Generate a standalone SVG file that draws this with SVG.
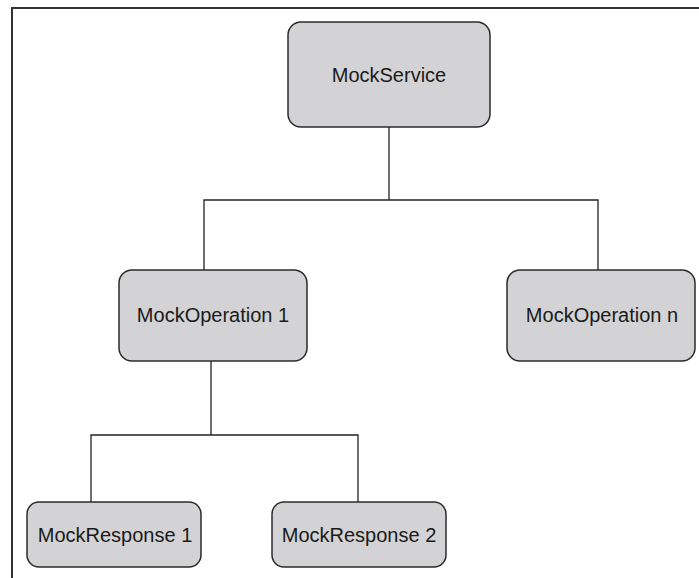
<svg xmlns="http://www.w3.org/2000/svg" width="699" height="578" viewBox="0 0 699 578">
<style>
.box{fill:#d3d3d5;stroke:#2b2b2b;stroke-width:1.5}
.lbl{font-family:"Liberation Sans",Arial,sans-serif;font-size:20px;fill:#1a1a1a;text-anchor:middle;dominant-baseline:central}
.con{fill:none;stroke:#222;stroke-width:1.3}
</style>
<rect width="699" height="578" fill="#fff"/>
<path d="M12 578 V8 H699" fill="none" stroke="#333" stroke-width="2"/>
<g id="connectors">
<path class="con" d="M389 127 V200 M204 270 V200 H598 V270"/>
<path class="con" d="M211 361 V435 M91 502 V435 H358 V502"/>
</g>
<g id="mockservice"><rect class="box" x="288" y="22" width="202" height="105" rx="13"/><text class="lbl" x="389" y="75">MockService</text></g>
<g id="mockop1"><rect class="box" x="119" y="270" width="188" height="91" rx="13"/><text class="lbl" x="213" y="315">MockOperation 1</text></g>
<g id="mockopn"><rect class="box" x="507" y="270" width="188" height="91" rx="13"/><text class="lbl" x="602" y="315">MockOperation n</text></g>
<g id="mockresp1"><rect class="box" x="27" y="502" width="174" height="65" rx="12"/><text class="lbl" x="115" y="535">MockResponse 1</text></g>
<g id="mockresp2"><rect class="box" x="272" y="502" width="174" height="65" rx="12"/><text class="lbl" x="359" y="535">MockResponse 2</text></g>
</svg>
